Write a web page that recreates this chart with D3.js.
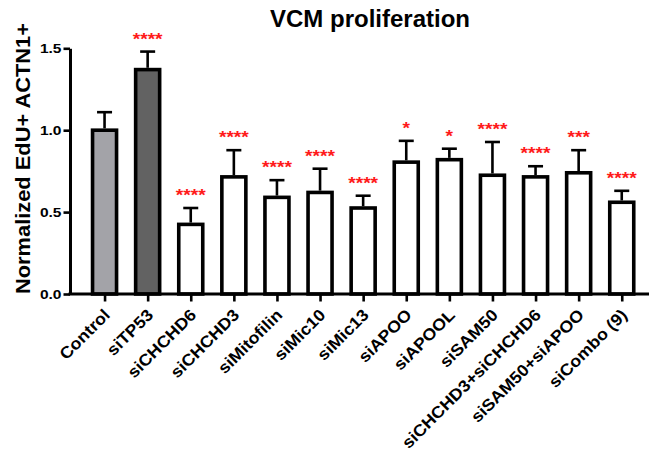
<!DOCTYPE html>
<html>
<head>
<meta charset="utf-8">
<script src="https://cdn.jsdelivr.net/npm/d3@7"></script>
<style>
  html, body { margin: 0; padding: 0; background: #fff; }
  svg { display: block; }
</style>
</head>
<body>
<svg id="chart" width="651" height="464"></svg>
<script>
// Groups along the x axis
const categories = [
  "Control", "siTP53", "siCHCHD6", "siCHCHD3", "siMitofilin", "siMic10", "siMic13",
  "siAPOO", "siAPOOL", "siSAM50", "siCHCHD3+siCHCHD6", "siSAM50+siAPOO", "siCombo (9)"
];
// Mean normalized EdU+ ACTN1+ per group
const means = [1.00, 1.37, 0.425, 0.715, 0.59, 0.62, 0.525, 0.805, 0.82, 0.725, 0.715, 0.74, 0.56];
// Upper end of the error bar (mean + SD)
const errTops = [1.11, 1.48, 0.525, 0.878, 0.695, 0.765, 0.60, 0.935, 0.887, 0.928, 0.78, 0.878, 0.63];
// Significance vs. Control
const significance = ["", "****", "****", "****", "****", "****", "****", "*", "*", "****", "****", "***", "****"];
// Y axis ticks
const yTicks = [0, 0.5, 1.0, 1.5];

const fills = { "Control": "#a3a3a8", "siTP53": "#626262" };

const svg = d3.select("#chart");
const axisLeft = 70, axisRight = 649;

const x = d3.scalePoint().domain(categories).range([83, 643.3]).padding(0.5);
const y = d3.scaleLinear().domain([0, 1.5]).range([294, 48.3]);

// widen a text element horizontally around its anchor
function widen(sel, factor) {
  sel.each(function () {
    const len = this.getComputedTextLength();
    d3.select(this).attr("textLength", len * factor).attr("lengthAdjust", "spacingAndGlyphs");
  });
}

const font = "'Liberation Sans', Arial, sans-serif";

// Title
svg.append("text")
  .attr("x", 370).attr("y", 26.5)
  .attr("text-anchor", "middle")
  .style("font-family", font)
  .style("font-weight", "bold").style("font-size", "24px")
  .text("VCM proliferation");

// Y axis label
const yl = svg.append("text")
  .attr("transform", "translate(29.5,158.5) rotate(-90)")
  .attr("text-anchor", "middle")
  .style("font-family", font)
  .style("font-weight", "bold").style("font-size", "19.5px")
  .text("Normalized EdU+ ACTN1+");
widen(yl, 1.12);

// Bars
const bw = 24;
svg.append("g").selectAll("rect").data(categories).join("rect")
  .attr("x", d => x(d) - bw / 2)
  .attr("y", (d, i) => y(means[i]))
  .attr("width", bw)
  .attr("height", (d, i) => y(0) - y(means[i]))
  .attr("fill", d => fills[d] || "#fff")
  .attr("stroke", "#000").attr("stroke-width", 3.6);

// Error bars (upper only)
const eb = svg.append("g").attr("stroke", "#000").attr("stroke-width", 2.6);
eb.selectAll("line.stem").data(categories).join("line").attr("class", "stem")
  .attr("x1", d => x(d)).attr("x2", d => x(d))
  .attr("y1", (d, i) => y(means[i]) - 1.8)
  .attr("y2", (d, i) => y(errTops[i]));
eb.selectAll("line.cap").data(categories).join("line").attr("class", "cap")
  .attr("x1", d => x(d) - 7.5).attr("x2", d => x(d) + 7.5)
  .attr("y1", (d, i) => y(errTops[i]))
  .attr("y2", (d, i) => y(errTops[i]));

// Significance stars
const stars = svg.append("g").selectAll("text").data(categories).join("text")
  .attr("x", d => x(d))
  .attr("y", (d, i) => y(errTops[i]) - 7)
  .attr("text-anchor", "middle")
  .attr("fill", "#ff1a1a")
  .style("font-family", font)
  .style("font-weight", "bold").style("font-size", "16px")
  .text((d, i) => significance[i]);
widen(stars.filter((d, i) => significance[i] !== ""), 1.2);

// X axis
const gx = svg.append("g").attr("transform", `translate(0,${y(0)})`)
  .call(d3.axisBottom(x).tickSize(7.5).tickSizeOuter(0));
gx.select(".domain").remove();
gx.selectAll(".tick line").attr("stroke", "#000").attr("stroke-width", 2.6);
gx.append("line")
  .attr("x1", axisLeft - 1.5).attr("x2", axisRight)
  .attr("stroke", "#000").attr("stroke-width", 3);
const xt = gx.selectAll(".tick text")
  .attr("x", 0).attr("y", 0).attr("dy", 0)
  .attr("transform", "translate(6,22) rotate(-45)")
  .attr("text-anchor", "end")
  .attr("fill", "#000")
  .style("font-family", font)
  .style("font-weight", "bold").style("font-size", "16.5px");
widen(xt, 1.08);

// Y axis
const gy = svg.append("g").attr("transform", `translate(${axisLeft},0)`)
  .call(d3.axisLeft(y).tickValues(yTicks).tickFormat(d3.format(".1f")).tickSize(6.5).tickPadding(2).tickSizeOuter(0));
gy.select(".domain").attr("stroke", "#000").attr("stroke-width", 3);
gy.selectAll(".tick line").attr("stroke", "#000").attr("stroke-width", 2.6);
const yt = gy.selectAll(".tick text")
  .attr("fill", "#000")
  .style("font-family", font)
  .style("font-weight", "bold").style("font-size", "13.5px");
widen(yt, 1.15);
</script>
</body>
</html>
